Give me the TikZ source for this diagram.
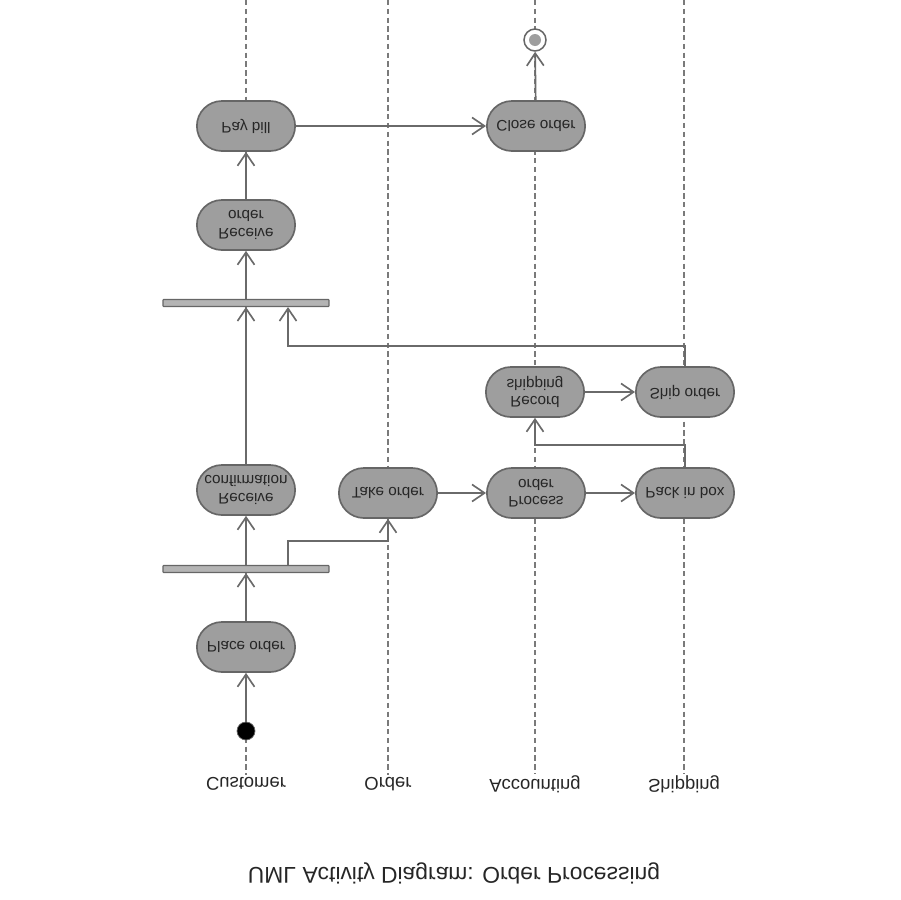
\documentclass[tikz,border=0pt]{standalone}
\usepackage{fontspec}
\setmainfont{Liberation Sans}
\usetikzlibrary{arrows.meta,calc,shapes.misc}

\begin{document}
\begin{tikzpicture}[
  x=0.02cm, y=-0.02cm,
  font=\fontsize{8.7}{9.8}\selectfont,
  flow/.style={-{Straight Barb[length=2.5mm,width=3.4mm]}, draw=edgegray, line width=.95pt},
  act/.style={rounded rectangle, draw=bordergray, fill=actgray, line width=.95pt,
    minimum width=2.2cm, minimum height=1cm, align=center, text=textgray, yscale=-1},
  bar/.style={draw=bordergray, fill=bargray, line width=.6pt, rounded corners=.4pt,
    minimum width=3.32cm, minimum height=.14cm, inner sep=0pt},
  lane/.style={draw=lanegray, line width=.6pt, dash pattern=on 3pt off 2pt},
  lanelabel/.style={font=\fontsize{10.5}{12}\selectfont, text=textgray, yscale=-1, inner sep=1pt}
]
\definecolor{actgray}{HTML}{9E9E9E}
\definecolor{bargray}{HTML}{B4B4B4}
\definecolor{bordergray}{HTML}{666666}
\definecolor{edgegray}{HTML}{6A6A6A}
\definecolor{lanegray}{HTML}{7A7A7A}
\definecolor{textgray}{HTML}{262626}

\useasboundingbox (0,0) rectangle (900,900);

% swimlanes
\foreach \x/\lanename in {246/Customer,388/Order,535/Accounting,684/Shipping}{
  \node[lanelabel] (lane-\lanename) at (\x,784) {\lanename};
  \draw[lane] (\x,0) -- (lane-\lanename);
}
\node[font=\fontsize{13}{15}\selectfont, text=textgray, yscale=-1] (title) at (454,873)
  {UML Activity Diagram: Order Processing};

% activities
\node[circle, fill=black, draw=bordergray, line width=.4pt, minimum size=.36cm, inner sep=0pt] (init) at (246,731) {};
\node[act] (place) at (246,647) {Place order};
\node[bar] (fork1) at (246,569) {};
\node[act] (rconf) at (246,490) {Receive\\confirmation};
\node[act] (take) at (388,493) {Take order};
\node[act] (proc) at (536,493) {Process\\order};
\node[act] (pack) at (685,493) {Pack in box};
\node[act] (rship) at (535,392) {Record\\shipping};
\node[act] (ship) at (685,392) {Ship order};
\node[bar] (fork2) at (246,303) {};
\node[act] (rorder) at (246,225) {Receive\\order};
\node[act] (pay) at (246,126) {Pay bill};
\node[act] (close) at (536,126) {Close order};
\node[circle, draw=bordergray, fill=white, line width=.85pt, minimum size=.44cm, inner sep=0pt,
  path picture={\fill[actgray] (path picture bounding box.center) circle (.12cm);}] (final) at (535,40) {};

\coordinate (j1) at (685,445);
\coordinate (j2) at (685,346);

% flows
\draw[flow] (init) -- (place);
\draw[flow] (place) -- (fork1);
\draw[flow] (fork1) -- (rconf);
\draw[flow] ($(fork1.north)+(42,0)$) -- ++(0,-24) -| (take);
\draw[flow] (take) -- (proc);
\draw[flow] (proc) -- (pack);
\draw[flow] (pack) -- (j1) -| (rship);
\draw[flow] (rship) -- (ship);
\draw[flow] (ship) -- (j2) -| ($(fork2.south)+(42,0)$);
\draw[flow] (rconf) -- (fork2);
\draw[flow] (fork2) -- (rorder);
\draw[flow] (rorder) -- (pay);
\draw[flow] (pay) -- (close);
\draw[flow] (close) -- (final);
\end{tikzpicture}
\end{document}
